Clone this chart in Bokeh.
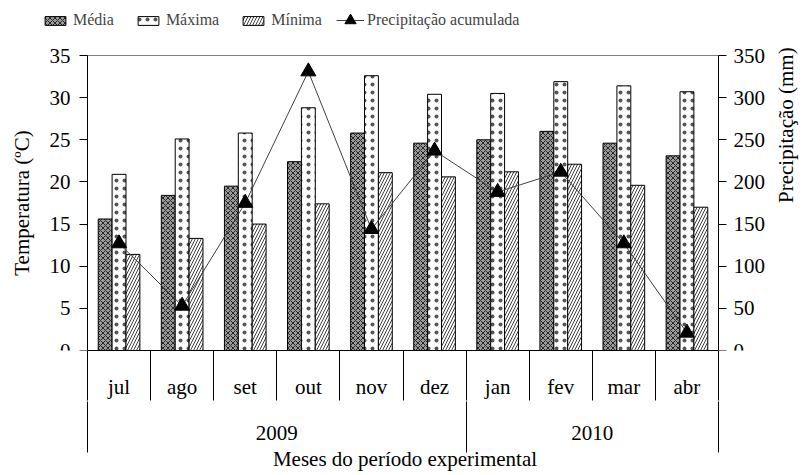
import math
from bokeh.plotting import figure
from bokeh.models import (Range1d, LinearAxis, FixedTicker, Legend,
                          LegendItem, ColumnDataSource)
from bokeh.transform import dodge
from bokeh.embed import file_html
from bokeh.resources import INLINE

# ---------------- data ----------------
months = ["jul", "ago", "set", "out", "nov", "dez", "jan", "fev", "mar", "abr"]
years = ["2009", "2010"]
months_per_year = [6, 4]
media = [15.6, 18.4, 19.5, 22.4, 25.8, 24.6, 25.0, 26.0, 24.6, 23.1]
maxima = [20.9, 25.1, 25.8, 28.8, 32.6, 30.4, 30.5, 31.9, 31.4, 30.7]
minima = [11.4, 13.3, 15.0, 17.4, 21.1, 20.6, 21.2, 22.1, 19.6, 17.0]
precip = [127, 53, 175, 331, 144, 237, 188, 212, 127, 21]
temp_ticks = [0, 5, 10, 15, 20, 25, 30, 35]
precip_ticks = [0, 50, 100, 150, 200, 250, 300, 350]

FONT = "Liberation Serif"
FS = "21px"        # axis texts
FS_LEG = "16px"    # legend texts

# layout (pixels): plot area inside a frame that spans the whole canvas width/top
PL, PW, PR = 87, 631, 91      # left margin, plot width, right margin
PT, PH = 55, 295              # top margin, plot height

n = len(months)
centers = [i + 0.5 for i in range(n)]          # category slot centres
bounds = [float(i) for i in range(n + 1)]      # category slot boundaries

src = ColumnDataSource(dict(xc=centers, months=months, media=media, maxima=maxima,
                            minima=minima, precip=precip))

x0 = -PL / PW * n
x1 = n + PR / PW * n
tmax = temp_ticks[-1]
pmax = precip_ticks[-1]
p = figure(x_range=Range1d(x0, x1),
           y_range=Range1d(0, tmax * (PH + PT) / PH),
           frame_width=PL + PW + PR, frame_height=PH + PT,
           min_border_left=0, min_border_right=0, min_border_top=0,
           min_border_bottom=124,
           x_axis_location=None, y_axis_location=None,
           output_backend="svg", toolbar_location=None)
p.grid.visible = False
p.outline_line_color = None
p.background_fill_color = "white"
p.border_fill_color = "white"

p.extra_y_ranges = {"precip": Range1d(0, pmax * (PH + PT) / PH)}

# ---------------- axes ----------------
def style_axis(ax):
    ax.major_label_text_font = FONT
    ax.major_label_text_font_size = FS
    ax.major_label_text_color = "black"
    ax.axis_label_text_font = FONT
    ax.axis_label_text_font_size = FS
    ax.axis_label_text_font_style = "normal"
    ax.axis_label_text_color = "black"
    ax.axis_line_color = "black"
    ax.major_tick_line_color = "black"
    ax.minor_tick_line_color = None

left = LinearAxis(ticker=FixedTicker(ticks=temp_ticks), axis_label="Temperatura (ºC)",
                  fixed_location=0, bounds=(0, tmax))
style_axis(left)
left.major_tick_out = 8
left.major_tick_in = 0
left.major_label_standoff = 9
left.axis_label_standoff = 13
p.add_layout(left, "left")

right = LinearAxis(y_range_name="precip", ticker=FixedTicker(ticks=precip_ticks),
                   axis_label="Precipitação (mm)", fixed_location=n, bounds=(0, pmax))
style_axis(right)
right.major_tick_out = 8
right.major_tick_in = 0
right.major_label_standoff = 7
right.axis_label_standoff = 18
right.axis_label_orientation = math.pi / 2
right.axis_label_text_align = "center"
p.add_layout(right, "right")

top = LinearAxis(ticker=FixedTicker(ticks=[]), fixed_location=tmax, bounds=(0, n))
style_axis(top)
top.axis_line_color = "#808080"
top.major_tick_line_color = None
p.add_layout(top, "above")

axA = LinearAxis(ticker=FixedTicker(ticks=centers, minor_ticks=bounds),
                 major_label_overrides=dict(zip(centers, months)), bounds=(0, n))
style_axis(axA)
axA.major_tick_out = 0
axA.major_tick_in = 0
axA.minor_tick_line_color = "black"
axA.minor_tick_out = 50
axA.minor_tick_in = 0
axA.major_label_standoff = -26
p.add_layout(axA, "below")

ybounds = [0.0]
for m in months_per_year:
    ybounds.append(ybounds[-1] + m)
ycenters = [(ybounds[i] + ybounds[i + 1]) / 2 for i in range(len(years))]
axB = LinearAxis(ticker=FixedTicker(ticks=ycenters, minor_ticks=ybounds),
                 major_label_overrides=dict(zip(ycenters, years)),
                 axis_label="Meses do período experimental", bounds=(0, n))
style_axis(axB)
axB.axis_line_color = None
axB.major_tick_out = 0
axB.major_tick_in = 0
axB.minor_tick_line_color = "black"
axB.minor_tick_out = 51
axB.minor_tick_in = 0
axB.major_label_standoff = -27
axB.axis_label_standoff = 4
p.add_layout(axB, "below")

# ---------------- bars ----------------
W = 0.22
r_med = p.vbar(x=dodge("xc", -W), top="media", width=W, source=src,
               fill_color="#9a9a9a", hatch_pattern="diagonal_cross", hatch_color="#262626",
               hatch_scale=5, hatch_weight=1, line_color="black", line_width=1)
r_max = p.vbar(x=dodge("xc", 0), top="maxima", width=W, source=src,
               fill_color="white", hatch_pattern="dot", hatch_color="#555555",
               hatch_scale=8, hatch_weight=0.8, line_color="black", line_width=1)
r_min = p.vbar(x=dodge("xc", W), top="minima", width=W, source=src,
               fill_color="white", hatch_pattern="right_diagonal_line", hatch_color="#404040",
               hatch_scale=6, hatch_weight=1, line_color="black", line_width=1)

# ---------------- precipitation ----------------
r_line = p.line(x="xc", y="precip", y_range_name="precip", source=src,
                line_color="#404040", line_width=1)
r_pts = p.scatter(x="xc", y="precip", y_range_name="precip", source=src,
                  marker="triangle", size=15, fill_color="black", line_color="black")

# ---------------- legends ----------------
leg1 = Legend(items=[LegendItem(label="Média", renderers=[r_med]),
                     LegendItem(label="Máxima", renderers=[r_max]),
                     LegendItem(label="Mínima", renderers=[r_min])],
              orientation="horizontal", location=(42, 321),
              glyph_width=26, glyph_height=11, label_standoff=5, spacing=21,
              padding=0, margin=0, border_line_color=None, background_fill_alpha=0,
              label_text_font=FONT, label_text_font_size=FS_LEG, label_height=18)
p.add_layout(leg1, "center")
leg2 = Legend(items=[LegendItem(label="Precipitação acumulada", renderers=[r_line, r_pts])],
              orientation="horizontal", location=(336, 316),
              glyph_width=28, glyph_height=28, label_standoff=3,
              padding=0, margin=0, border_line_color=None, background_fill_alpha=0,
              label_text_font=FONT, label_text_font_size=FS_LEG)
p.add_layout(leg2, "center")

open("out.html", "w").write(file_html(p, INLINE))
